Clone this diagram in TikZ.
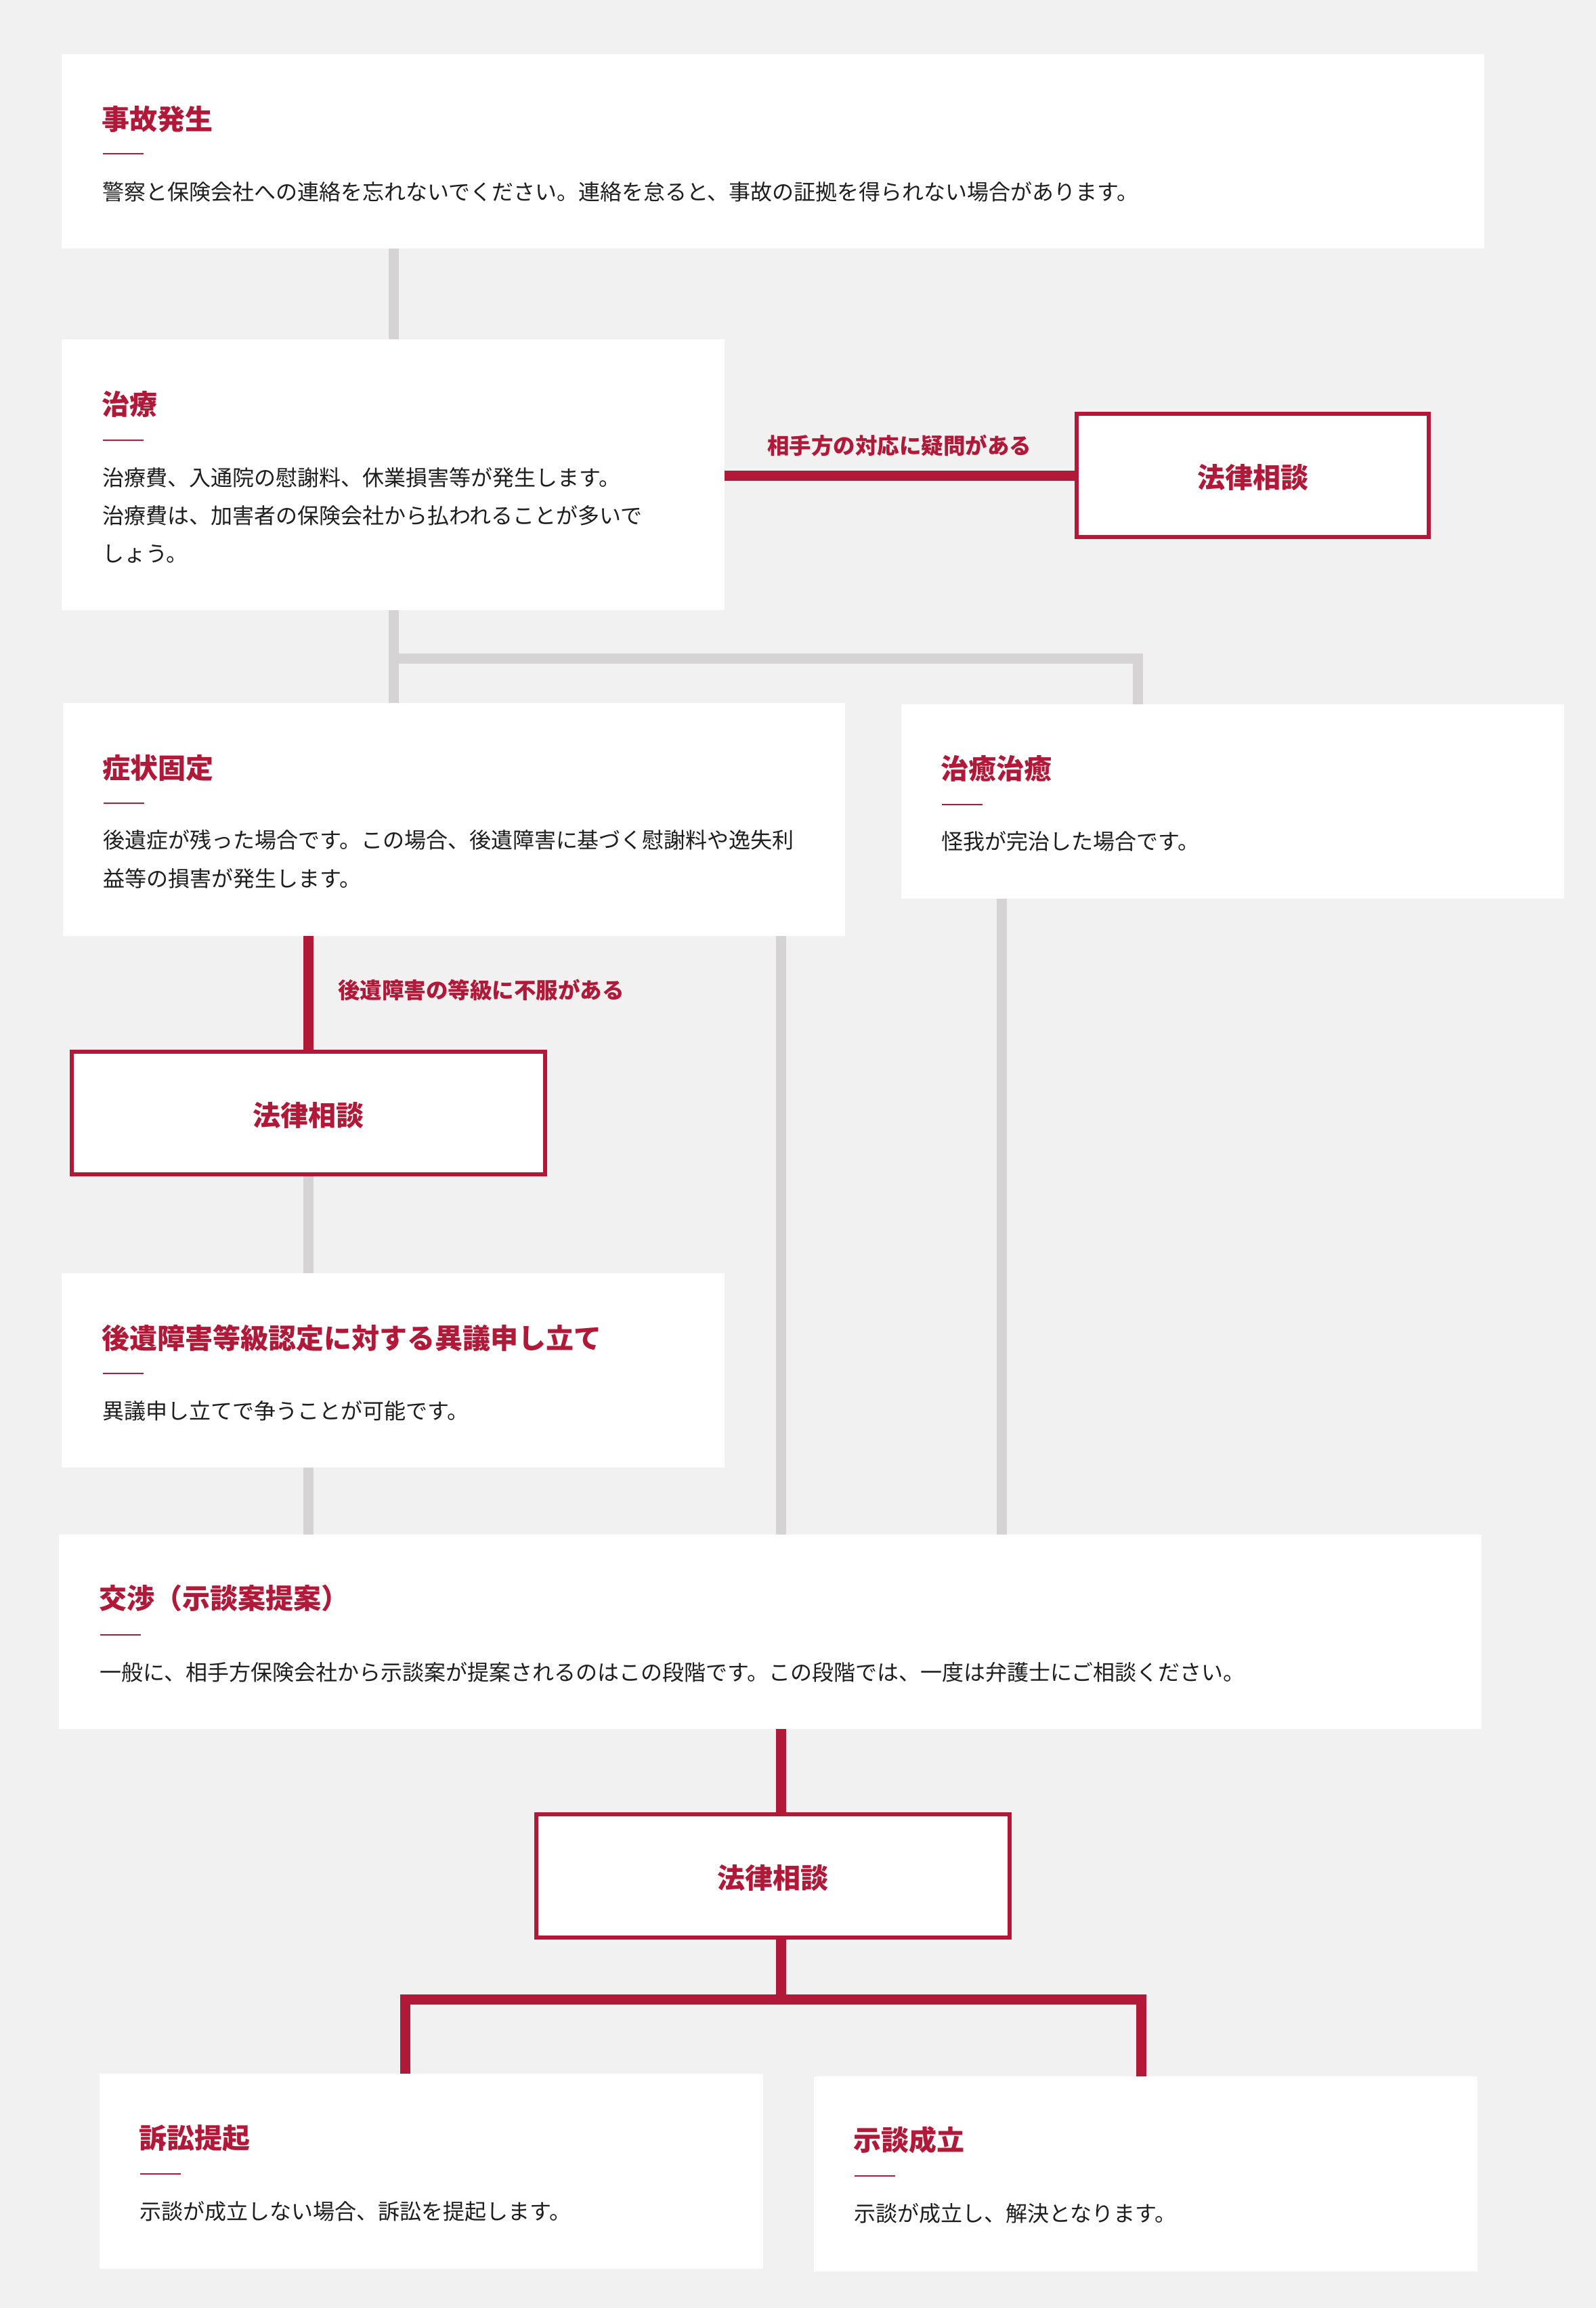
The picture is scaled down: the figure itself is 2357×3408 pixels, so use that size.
\documentclass[tikz,border=0pt]{standalone}
\usepackage{fontspec}
\setmainfont{Noto Sans CJK JP}
\definecolor{bg}{RGB}{241,241,241}
\definecolor{accent}{RGB}{178,24,56}
\definecolor{conn}{RGB}{213,211,212}
\definecolor{ink}{RGB}{30,30,30}
\begin{document}
\begin{tikzpicture}[x=1pt,y=-1pt,
 card/.style={fill=white, inner sep=0pt, outer sep=0pt, anchor=north west},
 lawbox/.style={draw=accent, line width=6pt, fill=white, inner sep=0pt, text height=40pt, text depth=2.8pt, text=accent, font=\fontsize{41}{49}\selectfont\bfseries},
 ttl/.style={anchor=base west, inner sep=0pt, text=accent, font=\fontsize{41}{49}\selectfont\bfseries},
 bdy/.style={anchor=base west, inner sep=0pt, text=ink, font=\fontsize{32}{40}\selectfont},
 lbl/.style={inner sep=0pt, text=accent, font=\fontsize{32.5}{40}\selectfont\bfseries},
 uline/.style={draw=accent, line width=2pt},
 greyline/.style={draw=conn, line width=15pt},
 redline/.style={draw=accent, line width=15pt},
 line join=miter]
\fill[bg] (0,0) rectangle (2357,3408);
\useasboundingbox (0,0) rectangle (2357,3408);

% cards
\node[card, minimum width=2101pt, minimum height=287pt] (A) at (91,80) {};
\node[card, minimum width=979pt, minimum height=400pt] (B) at (91,501) {};
\node[card, minimum width=1155pt, minimum height=344pt] (C) at (93,1038) {};
\node[card, minimum width=979pt, minimum height=287pt] (D) at (1331,1040) {};
\node[card, minimum width=979pt, minimum height=287pt] (G) at (91,1880) {};
\node[card, minimum width=2101pt, minimum height=287pt] (H) at (87,2266) {};
\node[card, minimum width=980pt, minimum height=288pt] (J) at (147,3062) {};
\node[card, minimum width=980pt, minimum height=288pt] (K) at (1202,3066) {};

% lawyer boxes
\node[lawbox, minimum width=520pt, minimum height=182pt] (E) at (1850,702) {法律相談};
\node[lawbox, minimum width=699pt, minimum height=181pt] (F) at (455.5,1643.5) {法律相談};
\node[lawbox, minimum width=699pt, minimum height=182pt] (I) at (1141.5,2770) {法律相談};

% x positions of connectors
\coordinate (xA) at (581,0);
\coordinate (xD) at (1680,0);
\coordinate (xF) at (455,0);
\coordinate (xM) at (1153,0);
\coordinate (xR) at (1479,0);
\coordinate (xJ) at (598,0);
\coordinate (xK) at (1685,0);
\coordinate (yj) at (0,972);
\coordinate (yb) at (0,2952);

% grey connectors
\draw[greyline] (xA |- A.south) -- (xA |- B.north);
\draw[greyline] (xA |- B.south) -- (xA |- C.north);
\draw[greyline] (xA |- yj) -- (xD |- yj) -- (xD |- D.north);
\draw[greyline] (xF |- F.south) -- (xF |- G.north);
\draw[greyline] (xF |- G.south) -- (xF |- H.north);
\draw[greyline] (xM |- C.south) -- (xM |- H.north);
\draw[greyline] (xR |- D.south) -- (xR |- H.north);

% red connectors
\draw[redline] (B.east |- E.west) -- (E.west);
\draw[redline] (xF |- C.south) -- (xF |- F.north);
\draw[redline] (xM |- H.south) -- (xM |- I.north);
\draw[redline] (xM |- I.south) -- (xM |- yb);
\draw[redline] (xJ |- J.north) -- (xJ |- yb) -- (xK |- yb) -- (xK |- K.north);

% connector labels
\node[lbl, anchor=base] (L1) at (1328,670.5) {相手方の対応に疑問がある};
\node[lbl, anchor=base west] (L2) at (499,1474.5) {後遺障害の等級に不服がある};

% card A
\node[ttl] (At) at (150,191.6) {事故発生};
\draw[uline] (152,227) -- (212,227);
\node[bdy] (Ab) at (151,295.2) {警察と保険会社への連絡を忘れないでください。連絡を怠ると、事故の証拠を得られない場合があります。};

% card B
\node[ttl] (Bt) at (150,612.6) {治療};
\draw[uline] (152,650) -- (212,650);
\node[bdy] (Bb1) at (151,717.2) {治療費、入通院の慰謝料、休業損害等が発生します。};
\node[bdy] (Bb2) at (151,773.2) {治療費は、加害者の保険会社から払われることが多いで};
\node[bdy] (Bb3) at (151,829) {しょう。};

% card C
\node[ttl] (Ct) at (151,1149.6) {症状固定};
\draw[uline] (153,1186) -- (213,1186);
\node[bdy] (Cb1) at (152,1252.2) {後遺症が残った場合です。この場合、後遺障害に基づく慰謝料や逸失利};
\node[bdy] (Cb2) at (152,1309.2) {益等の損害が発生します。};

% card D
\node[ttl] (Dt) at (1389,1150.6) {治癒治癒};
\draw[uline] (1391,1188) -- (1451,1188);
\node[bdy] (Db) at (1390,1254.2) {怪我が完治した場合です。};

% card G
\node[ttl] (Gt) at (150,1991.6) {後遺障害等級認定に対する異議申し立て};
\draw[uline] (152,2028) -- (212,2028);
\node[bdy] (Gb) at (151,2095.2) {異議申し立てで争うことが可能です。};

% card H
\node[ttl] (Ht) at (146,2375.6) {交渉（示談案提案）};
\draw[uline] (148,2414) -- (208,2414);
\node[bdy] (Hb) at (147,2481.2) {一般に、相手方保険会社から示談案が提案されるのはこの段階です。この段階では、一度は弁護士にご相談ください。};

% card J
\node[ttl] (Jt) at (205,3172.6) {訴訟提起};
\draw[uline] (207,3210) -- (267,3210);
\node[bdy] (Jb) at (206,3277.2) {示談が成立しない場合、訴訟を提起します。};

% card K
\node[ttl] (Kt) at (1260,3175.6) {示談成立};
\draw[uline] (1262,3213) -- (1322,3213);
\node[bdy] (Kb) at (1261,3280.2) {示談が成立し、解決となります。};
\end{tikzpicture}
\end{document}
